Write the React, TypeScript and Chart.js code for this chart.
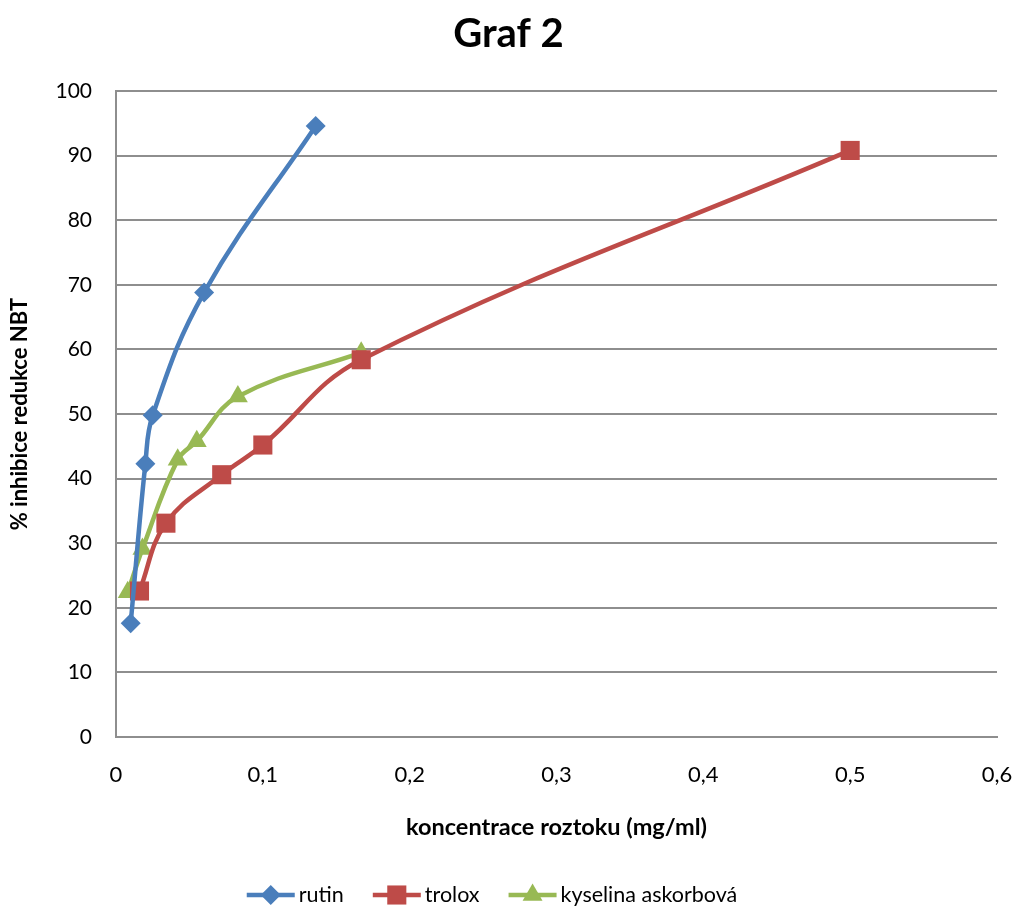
import React, { useEffect, useRef } from "react";
import { Chart, registerables } from "chart.js";

Chart.register(...registerables);

const chartTitle = "Graf 2";
const xAxisTitle = "koncentrace roztoku (mg/ml)";
const yAxisTitle = "% inhibice redukce NBT";

const rutinLabel = "rutin";
const rutinX = [0.01, 0.02, 0.025, 0.06, 0.136];
const rutinY = [17.6, 42.3, 49.8, 68.8, 94.6];

const troloxLabel = "trolox";
const troloxX = [0.016, 0.034, 0.072, 0.1, 0.167, 0.5];
const troloxY = [22.6, 33.1, 40.6, 45.2, 58.4, 90.8];

const askorbLabel = "kyselina askorbová";
const askorbX = [0.008, 0.018, 0.042, 0.055, 0.083, 0.167];
const askorbY = [22.4, 29.1, 42.9, 45.8, 52.7, 59.5];

const xMin = 0;
const xMax = 0.6;
const xStep = 0.1;
const yMin = 0;
const yMax = 100;
const yStep = 10;

const BLUE = "#4A7EBB";
const RED = "#BE4B48";
const GREEN = "#98B954";
const GRID = "#8e8e8e";
const FONT = "Lato, 'Open Sans', sans-serif";

const toPoints = (xs: number[], ys: number[]) => xs.map((x, i) => ({ x, y: ys[i] }));

function drawMarker(ctx: CanvasRenderingContext2D, style: string, x: number, y: number, r: number, color: string) {
  ctx.save();
  ctx.fillStyle = color;
  ctx.beginPath();
  if (style === "rectRot") {
    ctx.moveTo(x - r, y);
    ctx.lineTo(x, y - r);
    ctx.lineTo(x + r, y);
    ctx.lineTo(x, y + r);
    ctx.closePath();
  } else if (style === "rect") {
    const s = Math.SQRT1_2 * r;
    ctx.rect(x - s, y - s, 2 * s, 2 * s);
  } else {
    const h = r * 1.5;
    const w = r * Math.sqrt(3);
    ctx.moveTo(x, y - r);
    ctx.lineTo(x + w / 2, y - r + h);
    ctx.lineTo(x - w / 2, y - r + h);
    ctx.closePath();
  }
  ctx.fill();
  ctx.restore();
}

const customLegend = {
  id: "customLegend",
  afterDraw(chart: any) {
    const ctx: CanvasRenderingContext2D = chart.ctx;
    const ds = chart.data.datasets;
    const iconW = 48;
    const iconGap = 4;
    const itemGap = 29;
    const cy = 895;
    const centerX = 492;
    ctx.save();
    ctx.font = `21.5px ${FONT}`;
    ctx.textBaseline = "middle";
    const widths = ds.map((d: any) => iconW + iconGap + ctx.measureText(d.label).width);
    const total = widths.reduce((a: number, b: number) => a + b, 0) + itemGap * (ds.length - 1);
    let x = centerX - total / 2;
    ds.forEach((d: any, i: number) => {
      ctx.strokeStyle = d.borderColor;
      ctx.lineWidth = 4.5;
      ctx.beginPath();
      ctx.moveTo(x, cy);
      ctx.lineTo(x + iconW, cy);
      ctx.stroke();
      drawMarker(ctx, d.pointStyle, x + iconW / 2, cy, d.pointRadius, d.borderColor);
      ctx.fillStyle = "#000";
      ctx.textAlign = "left";
      ctx.fillText(d.label, x + iconW + iconGap, cy);
      x += widths[i] + itemGap;
    });
    ctx.restore();
  },
};

export default function App() {
  const ref = useRef<HTMLCanvasElement>(null);

  useEffect(() => {
    if (!ref.current) return;
    const mk = (label: string, xs: number[], ys: number[], color: string, style: string, r: number) => ({
      label,
      data: toPoints(xs, ys),
      borderColor: color,
      backgroundColor: color,
      pointBackgroundColor: color,
      pointBorderColor: color,
      pointBorderWidth: 0,
      pointStyle: style,
      pointRadius: r,
      pointHoverRadius: r,
      borderWidth: 4.5,
      tension: 0.4,
      showLine: true,
      fill: false,
    });
    const chart = new Chart(ref.current, {
      type: "scatter",
      data: {
        datasets: [
          mk(rutinLabel, rutinX, rutinY, BLUE, "rectRot", 10),
          mk(troloxLabel, troloxX, troloxY, RED, "rect", 13.5),
          mk(askorbLabel, askorbX, askorbY, GREEN, "triangle", 11.5),
        ],
      },
      options: {
        responsive: false,
        animation: false,
        layout: { padding: { left: 0, right: 0, top: 0, bottom: 0 } },
        plugins: {
          legend: { display: false },
          tooltip: { enabled: false },
          title: {
            display: true,
            text: chartTitle,
            color: "#000",
            font: { family: FONT, size: 40, weight: "bold" },
            padding: { top: 10, bottom: 33 },
          },
        },
        scales: {
          x: {
            type: "linear",
            min: xMin,
            max: xMax,
            afterFit: (s: any) => {
              s.height = 170;
              s.paddingRight = 20;
              s.paddingLeft = 0;
            },
            grid: { display: false, drawTicks: false },
            border: { display: true, color: GRID, width: 2 },
            ticks: {
              stepSize: xStep,
              padding: 25,
              maxRotation: 0,
              color: "#000",
              font: { family: FONT, size: 22 },
              callback: (v: any) => {
                const n = Math.round(Number(v) * 10) / 10;
                return n === 0 ? "0" : n.toFixed(1).replace(".", ",");
              },
            },
            title: {
              display: true,
              text: xAxisTitle,
              color: "#000",
              font: { family: FONT, size: 23.5, weight: "bold" },
              padding: { top: 0, bottom: 65 },
            },
          },
          y: {
            type: "linear",
            min: yMin,
            max: yMax,
            afterFit: (s: any) => {
              s.width = 116;
              s.paddingTop = 0;
              s.paddingBottom = 0;
            },
            grid: { color: GRID, lineWidth: 2, drawTicks: false },
            border: { display: true, color: GRID, width: 2 },
            ticks: {
              stepSize: yStep,
              padding: 24,
              color: "#000",
              font: { family: FONT, size: 21 },
            },
            title: {
              display: true,
              text: yAxisTitle,
              color: "#000",
              font: { family: FONT, size: 22, weight: "bold" },
              padding: { top: 7, bottom: 0 },
            },
          },
        },
      },
      plugins: [customLegend],
    });
    return () => chart.destroy();
  }, []);

  return (
    <div style={{ position: "absolute", left: 0, top: 0, width: 1017, height: 907, background: "#fff" }}>
      <canvas ref={ref} width={1017} height={907} style={{ display: "block" }} />
    </div>
  );
}
